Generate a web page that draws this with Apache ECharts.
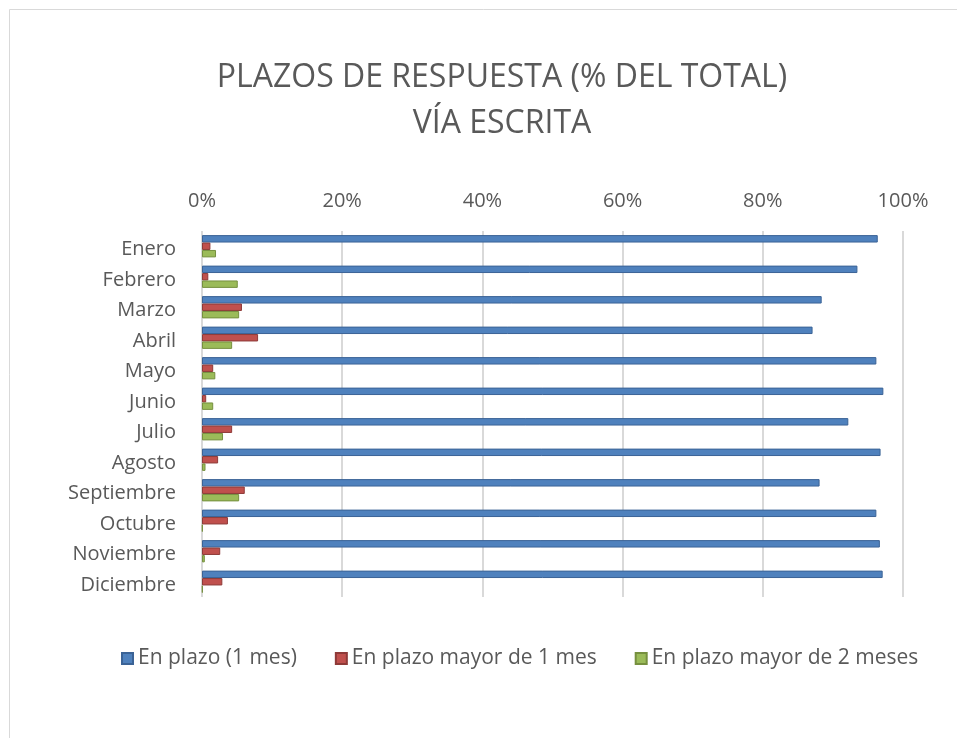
<!DOCTYPE html>
<html>
<head>
<meta charset="utf-8">
<script src="https://cdn.jsdelivr.net/npm/echarts@6/dist/echarts.min.js"></script>
<style>
  html, body { margin: 0; padding: 0; background: #fff; }
  #main { width: 957px; height: 738px; }
</style>
</head>
<body>
<div id="main"></div>
<script>
var meses = ['Enero', 'Febrero', 'Marzo', 'Abril', 'Mayo', 'Junio', 'Julio', 'Agosto',
  'Septiembre', 'Octubre', 'Noviembre', 'Diciembre'];
var enPlazo = [96.4, 93.5, 88.4, 87.1, 96.2, 97.2, 92.2, 96.8, 88.1, 96.2, 96.7, 97.1];
var mayor1 = [1.2, 0.9, 5.7, 8.0, 1.6, 0.6, 4.3, 2.3, 6.1, 3.7, 2.6, 2.9];
var mayor2 = [2.0, 5.1, 5.3, 4.3, 1.9, 1.6, 3.0, 0.5, 5.3, 0.1, 0.4, 0.1];
var ticks = [0, 20, 40, 60, 80, 100];

var myChart = echarts.init(document.getElementById('main'));

var font = '"Open Sans", sans-serif';
var gris = '#595959';

function barra(nombre, datos, color, borde) {
  return {
    name: nombre,
    type: 'bar',
    data: datos,
    barGap: '0%',
    barCategoryGap: '27%',
    itemStyle: { color: color, borderColor: borde, borderWidth: 1 }
  };
}

var option = {
  backgroundColor: '#fff',
  animation: false,
  title: {
    text: 'PLAZOS DE RESPUESTA (% DEL TOTAL)\nVÍA ESCRITA',
    left: 497,
    top: 50,
    textAlign: 'center',
    textStyle: { fontFamily: font, fontWeight: 'normal', fontSize: 32, color: gris, lineHeight: 46 }
  },
  legend: {
    left: 116,
    top: 643,
    itemWidth: 11,
    itemHeight: 11,
    itemGap: 38,
    icon: 'rect',
    textStyle: { fontFamily: font, fontSize: 21, color: gris }
  },
  graphic: [{
    type: 'rect',
    shape: { x: 9.5, y: 9.5, width: 1000, height: 1000 },
    style: { fill: 'none', stroke: '#d9d9d9', lineWidth: 1 },
    silent: true
  }],
  grid: { left: 202, right: 54, top: 231, bottom: 141 },
  xAxis: {
    type: 'value',
    position: 'top',
    min: ticks[0],
    max: ticks[ticks.length - 1],
    interval: 20,
    axisLine: { show: false },
    axisTick: { show: false },
    axisLabel: { formatter: '{value}%', fontFamily: font, fontSize: 20, color: gris, margin: 20 },
    splitLine: { lineStyle: { color: '#d9d9d9', width: 2 } }
  },
  yAxis: {
    type: 'category',
    inverse: true,
    data: meses,
    axisLine: { show: false },
    axisTick: { show: false },
    axisLabel: {
      margin: 26,
      formatter: function (v) { return '{m|' + v + '}'; },
      rich: { m: { fontFamily: font, fontSize: 20, color: gris, padding: [7, 0, 0, 0] } }
    }
  },
  series: [
    barra('En plazo (1 mes)', enPlazo, '#4f81bd', '#3b6396'),
    barra('En plazo mayor de 1 mes', mayor1, '#c0504d', '#8e3a38'),
    barra('En plazo mayor de 2 meses', mayor2, '#9bbb59', '#76903f')
  ]
};

myChart.setOption(option);
</script>
</body>
</html>
